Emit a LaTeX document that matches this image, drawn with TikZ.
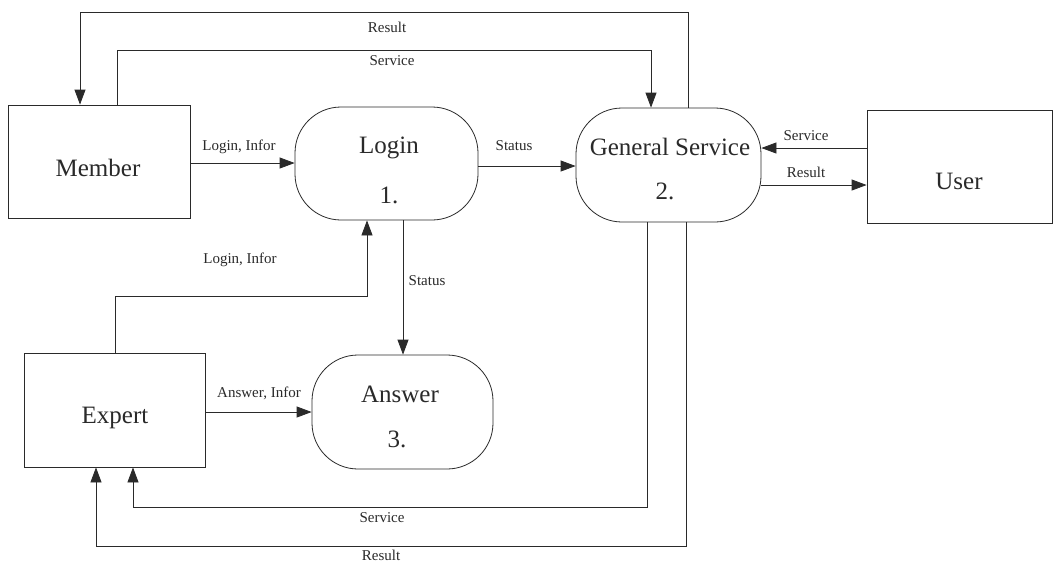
\documentclass[tikz,border=0pt]{standalone}
\usepackage{fontspec}
\setmainfont{Liberation Serif}
\usetikzlibrary{arrows.meta}
\definecolor{ink}{HTML}{2A2A2A}
\tikzset{
  ent/.style={draw=ink, line width=0.8pt, rectangle, inner sep=0pt},
  proc/.style={draw=ink, line width=0.8pt, rectangle, rounded corners=46pt, inner sep=0pt},
  big/.style={font=\fontsize{25}{29}\selectfont, anchor=base, inner sep=0pt, text=ink},
  lbl/.style={font=\fontsize{15}{18}\selectfont, anchor=base, inner sep=0pt, text=ink},
  flow/.style={draw=ink, line width=0.8pt, -{Triangle[length=15pt,width=11pt]}},
}
\begin{document}
\begin{tikzpicture}[x=1pt,y=-1pt]
\useasboundingbox (0,0) rectangle (1057,566);
\fill[white] (0,0) rectangle (1057,566);
% entities
\node[ent, minimum width=182pt, minimum height=113pt] (member) at (99,161.5) {};
\node[ent, minimum width=185pt, minimum height=113pt] (user) at (959.5,166.5) {};
\node[ent, minimum width=181pt, minimum height=114pt] (expert) at (114.5,410) {};
% processes
\node[proc, minimum width=183pt, minimum height=113pt] (login) at (386.5,163.5) {};
\node[proc, minimum width=185pt, minimum height=114pt] (gs) at (668.5,165) {};
\node[proc, minimum width=181pt, minimum height=114pt] (answer) at (402.5,412) {};
% texts
\node[big] (memberT) at (98,176) {Member};
\node[big] (userT) at (959,189) {User};
\node[big] (expertT) at (115,423) {Expert};
\node[big] (loginT) at (389,153) {Login};
\node[big] (loginN) at (389,203) {1.};
\node[big] (gsT) at (670,155) {General Service};
\node[big] (gsN) at (665,199) {2.};
\node[big] (answerT) at (400,402) {Answer};
\node[big] (answerN) at (397,447) {3.};
% coordinates
\coordinate (r1) at (688,12);
\coordinate (r2) at (80,12);
\coordinate (s1) at (117,50);
\coordinate (s2) at (651,50);
\coordinate (e1) at (115,296);
\coordinate (e2) at (367,296);
\coordinate (st) at (403,0);
\coordinate (b1) at (647,507);
\coordinate (b2) at (133,507);
\coordinate (c1) at (686,546);
\coordinate (c2) at (96,546);
\coordinate (y1) at (0,163);
\coordinate (y2) at (0,166);
\coordinate (y3) at (0,148);
\coordinate (y4) at (0,185);
\coordinate (y5) at (0,412);
% flows
\draw[flow] (gs.north -| r1) |- (r2) -- (member.north -| r2);
\draw[flow] (member.north -| s1) |- (s2) -- (gs.north -| s2);
\draw[flow] (member.east |- y1) -- (login.west |- y1);
\draw[flow] (login.east |- y2) -- (gs.west |- y2);
\draw[flow] (user.west |- y3) -- (gs.east |- y3);
\draw[flow] (gs.east |- y4) -- (user.west |- y4);
\draw[flow] (login.south -| st) -- (answer.north -| st);
\draw[flow] (expert.north -| e1) |- (e2) -- (login.south -| e2);
\draw[flow] (expert.east |- y5) -- (answer.west |- y5);
\draw[flow] (gs.south -| b1) |- (b2) -- (expert.south -| b2);
\draw[flow] (gs.south -| c1) |- (c2) -- (expert.south -| c2);
% labels
\node[lbl] (l1) at (387,32) {Result};
\node[lbl] (l2) at (392,65) {Service};
\node[lbl] (l3) at (239,150) {Login, Infor};
\node[lbl] (l4) at (514,150) {Status};
\node[lbl] (l5) at (806,140) {Service};
\node[lbl] (l6) at (806,177) {Result};
\node[lbl] (l7) at (240,263) {Login, Infor};
\node[lbl] (l8) at (427,285) {Status};
\node[lbl] (l9) at (259,397) {Answer, Infor};
\node[lbl] (l10) at (382,522) {Service};
\node[lbl] (l11) at (381,560) {Result};
\end{tikzpicture}
\end{document}
